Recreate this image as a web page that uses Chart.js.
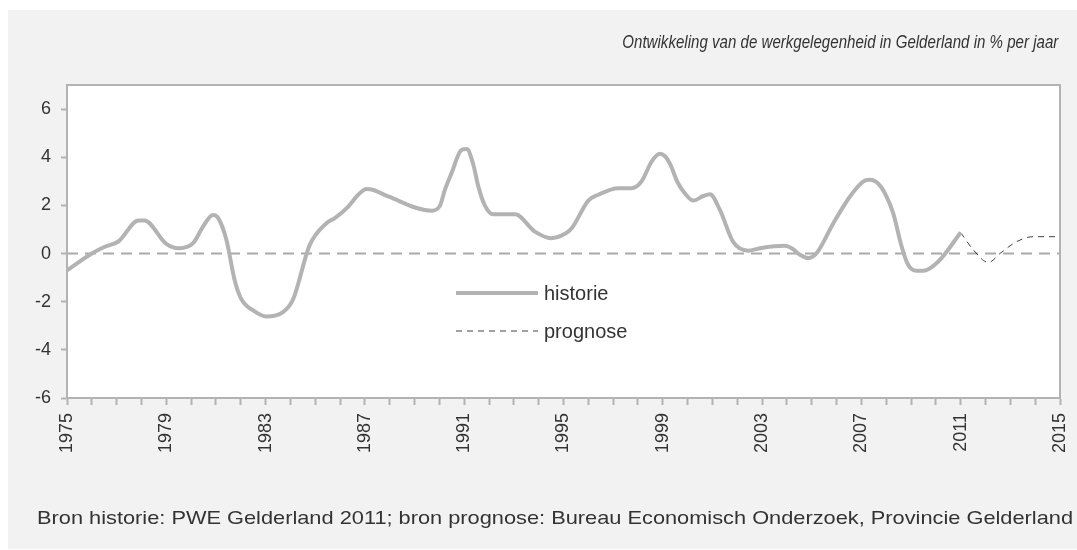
<!DOCTYPE html>
<html>
<head>
<meta charset="utf-8">
<script src="https://cdn.jsdelivr.net/npm/chart.js@4.4.0/dist/chart.umd.min.js"></script>
<style>
  body { margin: 0; background: #fff; font-family: "Liberation Sans", Arial, sans-serif; }
  #panel { position: absolute; left: 8px; top: 10px; width: 1069px; height: 539px; background: #f2f2f2; }
  #chart { position: absolute; left: 0; top: 0; }
  .txt { position: absolute; color: #333; white-space: nowrap; line-height: 1; }
  #title { font-style: italic; font-size: 18px; right: 19px; top: 33px; transform-origin: right center; }
  #source { font-size: 19px; left: 37px; top: 508px; transform-origin: left center; }
</style>
</head>
<body>
<div id="panel"></div>
<canvas id="chart" width="1077" height="550"></canvas>
<div class="txt" id="title">Ontwikkeling van de werkgelegenheid in Gelderland in % per jaar</div>
<div class="txt" id="source">Bron historie: PWE Gelderland 2011; bron prognose: Bureau Economisch Onderzoek, Provincie Gelderland</div>
<script>
// historie
const histYears = [
  1975.0, 1976.0, 1976.5, 1977.07, 1977.88, 1978.12, 1979.0, 1979.5, 1980.08, 1980.48,
  1980.88, 1981.1, 1981.42, 1981.75, 1982.0, 1982.56, 1983.03, 1983.7, 1984.1, 1984.78,
  1985.45, 1985.79, 1986.33, 1986.73, 1987.07, 1987.34, 1987.94, 1989.69, 1990.02, 1990.22,
  1990.49, 1990.89, 1991.1, 1991.36, 1991.57, 1991.84, 1992.17, 1993.05, 1993.85, 1994.5,
  1995.06, 1995.33, 1996.0, 1996.4, 1997.2, 1997.74, 1998.14, 1998.55, 1998.88, 1999.08,
  1999.3, 1999.6, 1999.89, 2000.23, 2000.63, 2000.9, 2001.3, 2001.84, 2002.44, 2002.91,
  2003.92, 2004.19, 2004.52, 2004.86, 2005.2, 2005.87, 2006.54, 2007.07, 2007.34, 2007.7,
  2007.95, 2008.28, 2008.62, 2008.88, 2009.22, 2009.49, 2010.1, 2011.0
];
const histValues = [
  -0.70, 0.00, 0.27, 0.50, 1.37, 1.37, 0.40, 0.22, 0.43, 1.12,
  1.60, 1.46, 0.57, -1.09, -1.85, -2.40, -2.61, -2.43, -1.92, 0.36,
  1.26, 1.47, 1.95, 2.44, 2.68, 2.64, 2.37, 1.78, 1.98, 2.64,
  3.34, 4.30, 4.34, 3.72, 2.78, 1.98, 1.63, 1.63, 0.91, 0.64,
  0.82, 1.05, 2.20, 2.44, 2.71, 2.71, 2.99, 3.82, 4.14, 4.05,
  3.70, 2.95, 2.50, 2.20, 2.39, 2.46, 1.81, 0.47, 0.12, 0.22,
  0.32, 0.22, -0.05, -0.19, 0.02, 1.26, 2.37, 2.99, 3.06, 2.88,
  2.50, 1.68, 0.29, -0.47, -0.72, -0.72, -0.33, 0.87
];

// prognose
const progYears = [2011.0, 2011.51, 2012.12, 2012.58, 2013.26, 2013.93, 2015.0];
const progValues = [0.87, 0.15, -0.37, 0.00, 0.50, 0.70, 0.70];

const labelYears = [1975, 1979, 1983, 1987, 1991, 1995, 1999, 2003, 2007, 2011, 2015];

const toPoints = (xs, ys) => xs.map((x, i) => ({ x: x, y: ys[i] }));

const FONT = '"Liberation Sans", Arial, sans-serif';
const AXIS = "#b3b3b3";

// white plot area + zero line + frame + legend inside the plot
const plotDeco = {
  id: "plotDeco",
  beforeDraw(chart) {
    const { ctx, chartArea: a } = chart;
    ctx.save();
    ctx.fillStyle = "#fff";
    ctx.fillRect(a.left, a.top, a.right - a.left, a.bottom - a.top);
    ctx.restore();
  },
  beforeDatasetsDraw(chart) {
    const { ctx, chartArea: a } = chart;
    const y0 = chart.scales.y.getPixelForValue(0);
    ctx.save();
    ctx.strokeStyle = "#aaa";
    ctx.lineWidth = 2;
    ctx.setLineDash([11, 7]);
    ctx.beginPath();
    ctx.moveTo(a.left, y0);
    ctx.lineTo(a.right, y0);
    ctx.stroke();
    ctx.restore();
  },
  afterDraw(chart) {
    const { ctx, chartArea: a } = chart;
    ctx.save();
    ctx.strokeStyle = AXIS;
    ctx.lineWidth = 2;
    ctx.strokeRect(a.left, a.top, a.right - a.left, a.bottom - a.top);

    // legend
    const lx = 456, ly = 293, gap = 38, len = 82;
    ctx.font = "20px " + FONT;
    ctx.textBaseline = "middle";
    chart.data.datasets.forEach((ds, i) => {
      const y = ly + i * gap;
      ctx.strokeStyle = ds.borderColor;
      ctx.lineWidth = ds.borderWidth;
      ctx.setLineDash(ds.borderDash || []);
      ctx.beginPath();
      ctx.moveTo(lx, y);
      ctx.lineTo(lx + len, y);
      ctx.stroke();
      ctx.fillStyle = "#333";
      ctx.fillText(ds.label, lx + len + 6, y + 1);
    });
    ctx.restore();
  },
};

new Chart(document.getElementById("chart"), {
  type: "line",
  data: {
    datasets: [
      {
        label: "historie",
        data: toPoints(histYears, histValues),
        borderColor: "#b3b3b3",
        borderWidth: 4,
        pointRadius: 0,
        cubicInterpolationMode: "monotone",
      },
      {
        label: "prognose",
        data: toPoints(progYears, progValues),
        borderColor: "#444",
        borderWidth: 1,
        borderDash: [6, 5],
        pointRadius: 0,
        cubicInterpolationMode: "monotone",
      },
    ],
  },
  options: {
    responsive: false,
    animation: false,
    devicePixelRatio: 1,
    layout: { padding: { left: 0, top: 85, right: 17, bottom: 92 } },
    plugins: { legend: { display: false }, tooltip: { enabled: false } },
    scales: {
      x: {
        type: "linear",
        min: 1975,
        max: 2015,
        afterFit: (s) => {
          s.height = 60;
          s.paddingLeft = 0;
          s.paddingRight = 0;
        },
        ticks: {
          stepSize: 1,
          autoSkip: false,
          maxRotation: 90,
          minRotation: 90,
          padding: 8,
          color: "#333",
          font: { family: FONT, size: 18 },
          callback: (v) => (labelYears.includes(v) ? String(v) : ""),
        },
        grid: { drawOnChartArea: false, drawTicks: true, tickLength: 7, tickColor: AXIS, tickWidth: 2 },
        border: { color: AXIS, width: 2 },
      },
      y: {
        min: -6,
        max: 7,
        afterFit: (s) => { s.width = 67; },
        ticks: {
          stepSize: 2,
          includeBounds: false,
          padding: 10,
          color: "#333",
          font: { family: FONT, size: 18 },
        },
        grid: { drawOnChartArea: false, drawTicks: true, tickLength: 6, tickColor: AXIS, tickWidth: 2 },
        border: { color: AXIS, width: 2 },
      },
    },
  },
  plugins: [plotDeco],
});

// stretch the two text lines to the widths they have in the picture
function fitWidth(id, target) {
  const el = document.getElementById(id);
  const w = el.getBoundingClientRect().width;
  el.style.transform = `scaleX(${target / w})`;
}
fitWidth("title", 436);
fitWidth("source", 1036);
</script>
</body>
</html>
